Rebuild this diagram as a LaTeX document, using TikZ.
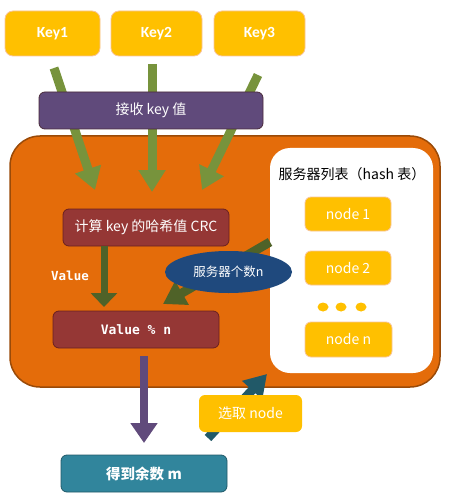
\documentclass[tikz,border=0pt]{standalone}
\usepackage{fontspec}
\setmainfont{Carlito}
\newfontfamily\cjk{Noto Sans CJK SC}
\newfontfamily\mono{DejaVu Sans Mono}
\usetikzlibrary{arrows.meta,shapes.geometric}
\definecolor{keyyel}{HTML}{FFC000}
\definecolor{keyedge}{HTML}{F8C49A}
\definecolor{purp}{HTML}{604A7B}
\definecolor{purpedge}{HTML}{4A2A3A}
\definecolor{orng}{HTML}{E46C0A}
\definecolor{orngedge}{HTML}{9A4A08}
\definecolor{olive}{HTML}{77933C}
\definecolor{dolive}{HTML}{4F6228}
\definecolor{redbox}{HTML}{953735}
\definecolor{rededge}{HTML}{6A2020}
\definecolor{navy}{HTML}{1F497D}
\definecolor{teal}{HTML}{31859C}
\definecolor{dteal}{HTML}{215968}
\tikzset{
  keybox/.style={fill=keyyel,draw=keyedge,line width=0.8pt,rounded corners=8pt,text=white,inner sep=0pt},
  darkbox/.style={draw=#1,line width=0.8pt,rounded corners=6pt,text=white,inner sep=0pt},
  fatarrow/.style={line width=#1,-{Triangle[width=26pt,length=22pt]}},
}
\begin{document}
\begin{tikzpicture}[x=1pt,y=-1pt]
\useasboundingbox (0,0) rectangle (464,497);
% Keys
\node[keybox,minimum width=95pt,minimum height=45pt,font=\bfseries\fontsize{15.5}{17}\selectfont] (k1) at (52.5,33.5) {Key1};
\node[keybox,minimum width=91pt,minimum height=45pt,font=\bfseries\fontsize{15.5}{17}\selectfont] (k2) at (156.5,33.5) {Key2};
\node[keybox,minimum width=91pt,minimum height=45pt,font=\bfseries\fontsize{15.5}{17}\selectfont] (k3) at (259.5,33.5) {Key3};
% big orange area
\node[fill=orng,draw=orngedge,line width=1.5pt,rounded corners=30pt,minimum width=430pt,minimum height=251pt,inner sep=0pt] (area) at (225,261.5) {};
% white server list
\node[fill=white,rounded corners=20pt,minimum width=163pt,minimum height=225pt,inner sep=0pt] (list) at (351.5,260.5) {};
% green arrows
\coordinate (a1s) at (54,68); \coordinate (a1e) at (95,190);
\coordinate (a2s) at (152,64); \coordinate (a2e) at (152,192);
\coordinate (a3s) at (258,75); \coordinate (a3e) at (202,190);
\draw[fatarrow=9pt,olive] (a1s) -- (a1e);
\draw[fatarrow=9pt,olive] (a2s) -- (a2e);
\draw[fatarrow=9pt,olive] (a3s) -- (a3e);
% receive key
\node[darkbox=purpedge,fill=purp,minimum width=224pt,minimum height=37pt,font=\cjk\fontsize{14}{16}\selectfont] (recv) at (151,110.5) {接收 key 值};
% list title and nodes
\node[font=\cjk\fontsize{14}{16}\selectfont,text=black] (title) at (352,174) {服务器列表（hash 表）};
\node[keybox,rounded corners=6pt,minimum width=86pt,minimum height=34pt,font=\cjk\fontsize{14}{16}\selectfont] (n1) at (348,214) {node 1};
\node[keybox,rounded corners=6pt,minimum width=86pt,minimum height=34pt,font=\cjk\fontsize{14}{16}\selectfont] (n2) at (348,268) {node 2};
\foreach \i/\xx in {1/323,2/341,3/361} \fill[keyyel] (\xx,307) ellipse (5.5pt and 4.5pt);
\node[keybox,rounded corners=6pt,minimum width=87pt,minimum height=35pt,font=\cjk\fontsize{14}{16}\selectfont] (nn) at (348.5,339.5) {node n};
% CRC box
\node[darkbox=rededge,fill=redbox,minimum width=166pt,minimum height=37pt,font=\cjk\fontsize{14}{16}\selectfont] (crc) at (146,227.5) {计算 key 的哈希值 CRC};
% value % n box
\node[darkbox=rededge,fill=redbox,minimum width=166pt,minimum height=37pt,font=\mono\bfseries\fontsize{13}{15}\selectfont] (mod) at (136,329.5) {Value \% n};
% crc -> mod
\coordinate (c1) at (104,246); \coordinate (c2) at (104,307);
\draw[dolive,line width=7pt,-{Triangle[width=26pt,length=14pt]}] (c1) -- (c2);
\node[text=white,font=\mono\bfseries\fontsize{12.5}{14}\selectfont] (vlab) at (70,276) {Value};
% server count arrow
\coordinate (s1) at (270,242); \coordinate (s2) at (163,304);
\draw[fatarrow=9pt,dolive] (s1) -- (s2);
\node[ellipse,fill=navy,minimum width=127pt,minimum height=42pt,inner sep=0pt,text=white,font=\cjk\fontsize{12.5}{14}\selectfont] (cnt) at (228.5,272) {服务器个数n};
% mod -> result
\coordinate (p1) at (144,356); \coordinate (p2) at (144,443);
\draw[purp,line width=8pt,-{Triangle[width=26pt,length=20pt]}] (p1) -- (p2);
% select node arrow
\coordinate (t1) at (208,438); \coordinate (t2) at (267,374);
\draw[fatarrow=9pt,dteal] (t1) -- (t2);
\node[fill=keyyel,rounded corners=6pt,minimum width=103pt,minimum height=37pt,inner sep=0pt,text=white,font=\cjk\fontsize{14}{16}\selectfont] (sel) at (250.5,413.5) {选取 node};
% result
\node[darkbox=dteal,fill=teal,minimum width=166pt,minimum height=37pt,font=\cjk\bfseries\fontsize{14.5}{16}\selectfont] (res) at (144,473.5) {得到余数 m};
\end{tikzpicture}
\end{document}
